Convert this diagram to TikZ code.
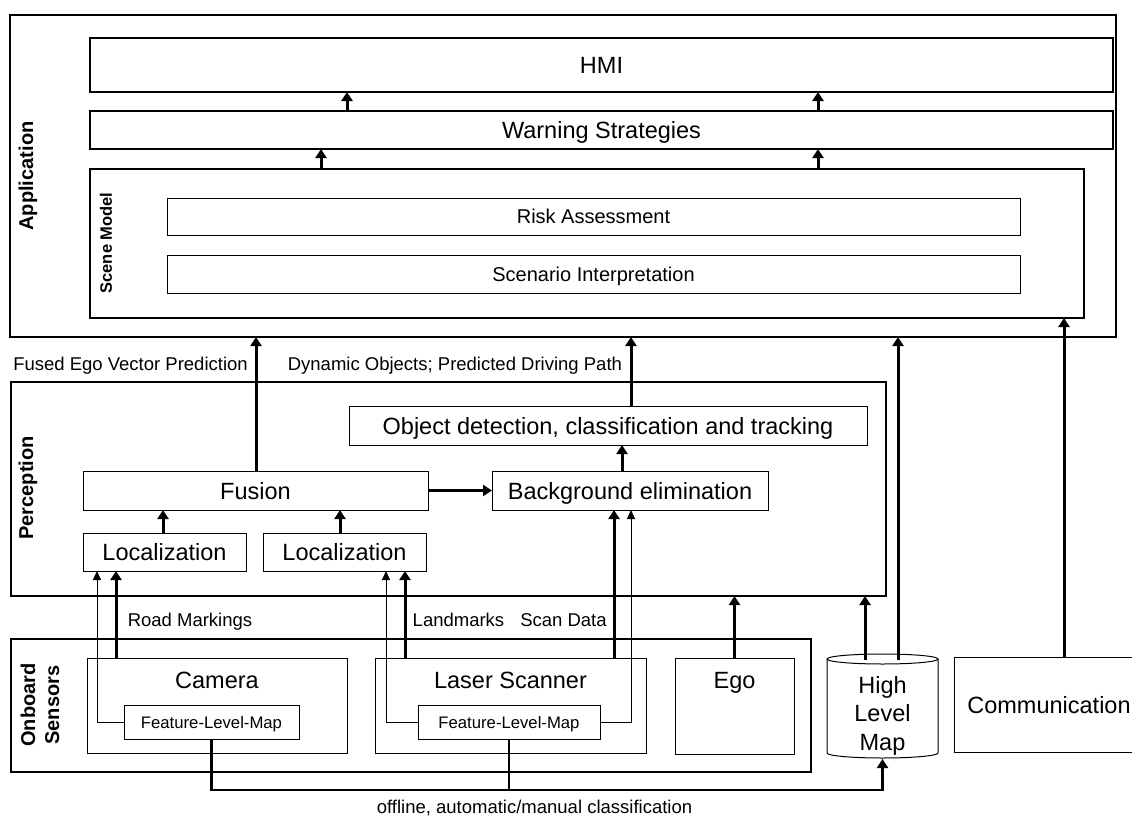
\documentclass[tikz,border=0pt]{standalone}
\usepackage{fontspec}
\setmainfont{Liberation Sans}
\usetikzlibrary{arrows.meta}
\newcommand\fBig{\fontsize{23.5}{28.5}\selectfont}
\newcommand\fMid{\fontsize{20}{24}\selectfont}
\newcommand\fLbl{\fontsize{18.5}{22}\selectfont}
\newcommand\fSm{\fontsize{16.7}{20}\selectfont}
\newcommand\fLay{\bfseries\fontsize{20}{24}\selectfont}
\newcommand\fScn{\bfseries\fontsize{16.5}{20}\selectfont}
\begin{document}
\begin{tikzpicture}[x=1pt,y=-1pt,
  every node/.style={inner sep=0pt, outer sep=0pt},
  box/.style={draw, line width=1pt, anchor=north west, text height=17pt, text depth=0pt, font=\fBig},
  outerbox/.style={draw, line width=2.4pt, anchor=north west},
  layer/.style={font=\fLay, rotate=90, align=center},
  elab/.style={font=\fLbl, anchor=base},
  thk/.style={line width=3pt, -{Triangle[width=11pt,length=9pt]}},
  thn/.style={line width=1pt, -{Triangle[width=8pt,length=9pt]}},
  feed/.style={line width=2.6pt},
]
\useasboundingbox (0,0) rectangle (1132,816);
\clip (0,0) rectangle (1132,816);

% Application layer
\node[outerbox, minimum width=1106pt, minimum height=322pt] (app) at (10,15) {};
\node[box, line width=1.2pt, minimum width=1023pt, minimum height=54pt] (hmi) at (90,38) {HMI};
\node[box, line width=1.2pt, minimum width=1023pt, minimum height=38pt] (warn) at (90,111) {Warning Strategies};
\node[draw, line width=1.6pt, anchor=north west, minimum width=994pt, minimum height=149pt] (scene) at (90,169) {};
\node[box, font=\fMid, text height=14.4pt, minimum width=853pt, minimum height=37pt] (risk) at (167,198) {Risk Assessment};
\node[box, font=\fMid, text height=14.4pt, minimum width=853pt, minimum height=38pt] (scen) at (167,255) {Scenario Interpretation};
\node[layer] (appL) at (28,176) {Application};
\node[layer, font=\fScn] (sceneL) at (106,243) {Scene Model};

% Perception layer
\node[outerbox, minimum width=875pt, minimum height=214pt] (perc) at (11,382) {};
\node[box, minimum width=518pt, minimum height=39pt] (obj) at (349,406) {Object detection, classification and tracking};
\node[box, minimum width=345pt, minimum height=39pt] (fus) at (83,471) {Fusion};
\node[box, minimum width=276pt, minimum height=39pt] (bg) at (492,471) {Background elimination};
\node[box, minimum width=163pt, minimum height=38pt] (loc1) at (83,533) {Localization};
\node[box, minimum width=163pt, minimum height=38pt] (loc2) at (263,533) {Localization};
\node[layer] (percL) at (28,488) {Perception};

% Onboard sensors
\node[outerbox, minimum width=800pt, minimum height=133pt] (sens) at (11,639) {};
\node[box, minimum width=260pt, minimum height=95pt] (cam) at (87,658) {};
\node[font=\fBig, anchor=base] (camT) at (217,688) {Camera};
\node[box, font=\fSm, text height=12pt, minimum width=175pt, minimum height=34pt] (flm1) at (124,705) {Feature-Level-Map};
\node[box, minimum width=271pt, minimum height=95pt] (las) at (375,658) {};
\node[font=\fBig, anchor=base] (lasT) at (510.5,688) {Laser Scanner};
\node[box, font=\fSm, text height=12pt, minimum width=182pt, minimum height=34pt] (flm2) at (418,705) {Feature-Level-Map};
\node[box, minimum width=119pt, minimum height=96pt] (ego) at (675,658) {};
\node[font=\fBig, anchor=base] (egoT) at (734.5,688) {Ego};
\node[layer] (sensL) at (40,705) {Onboard\\Sensors};

% High level map (cylinder)
\draw[line width=1pt, fill=white] (827,659) -- (827,753) arc[start angle=180, end angle=360, x radius=55.5pt, y radius=5pt] -- (938,659);
\draw[line width=1pt] (882.5,659) ellipse[x radius=55.5pt, y radius=5pt];
\node[anchor=north west, minimum width=111pt, minimum height=105pt] (hlm) at (827,654) {};
\node[font=\fBig, align=center] (hlmT) at (882.5,715.5) {High\\Level\\Map};

% Communication
\node[box, minimum width=190pt, minimum height=95pt] (comm) at (954,657) {Communication};

% Connector labels
\node[elab] (lFused) at (130.5,370) {Fused Ego Vector Prediction};
\node[elab, anchor=base east] (lDyn) at (622,370) {Dynamic Objects; Predicted Driving Path};
\node[elab] (lRoad) at (190,626) {Road Markings};
\node[elab] (lLand) at (458.5,626) {Landmarks};
\node[elab] (lScan) at (563.5,626) {Scan Data};
\node[elab] (lOff) at (534.5,813) {offline, automatic/manual classification};

% Connectors
\draw[thk] ([xshift=257pt]warn.north west) coordinate (w1) -- (w1 |- hmi.south);
\draw[thk] ([xshift=728pt]warn.north west) coordinate (w2) -- (w2 |- hmi.south);
\draw[thk] ([xshift=231pt]scene.north west) coordinate (s1) -- (s1 |- warn.south);
\draw[thk] ([xshift=728pt]scene.north west) coordinate (s2) -- (s2 |- warn.south);
\draw[thk] ([xshift=173pt]fus.north west) coordinate (f1) -- (f1 |- app.south);
\draw[thk] ([xshift=282pt]obj.north west) coordinate (o1) -- (o1 |- app.south);
\draw[thk] ([xshift=130pt]bg.north west) coordinate (b1) -- (b1 |- obj.south);
\draw[thk] (fus.east) -- (bg.west);
\draw[thk] ([xshift=80pt]loc1.north west) coordinate (l1) -- (l1 |- fus.south);
\draw[thk] ([xshift=77pt]loc2.north west) coordinate (l2) -- (l2 |- fus.south);
\draw[thk] ([xshift=29pt]cam.north west) coordinate (c1) -- (c1 |- loc1.south);
\draw[thn] (flm1.west) -| ([xshift=14pt]loc1.south west);
\draw[thk] ([xshift=30pt]las.north west) coordinate (c2) -- (c2 |- loc2.south);
\draw[thn] (flm2.west) -| ([xshift=123pt]loc2.south west);
\draw[thk] ([xshift=239pt]las.north west) coordinate (c3) -- (c3 |- bg.south);
\draw[thn] (flm2.east) -| ([xshift=139pt]bg.south west);
\draw[thk] (ego.north) -- (ego.north |- perc.south);
\draw[thk] ([xshift=38pt,yshift=-6pt]hlm.north west) coordinate (h1) -- (h1 |- perc.south);
\draw[thk] ([xshift=71pt,yshift=-6pt]hlm.north west) coordinate (h2) -- (h2 |- app.south);
\draw[thk] ([xshift=110pt]comm.north west) coordinate (m1) -- (m1 |- scene.south);
\draw[feed, -{Triangle[width=11pt,length=9pt]}] (flm1.south) -- ++(0,51) -| (hlm.south);
\draw[feed] (flm2.south) -- ++(0,51);
\end{tikzpicture}
\end{document}
